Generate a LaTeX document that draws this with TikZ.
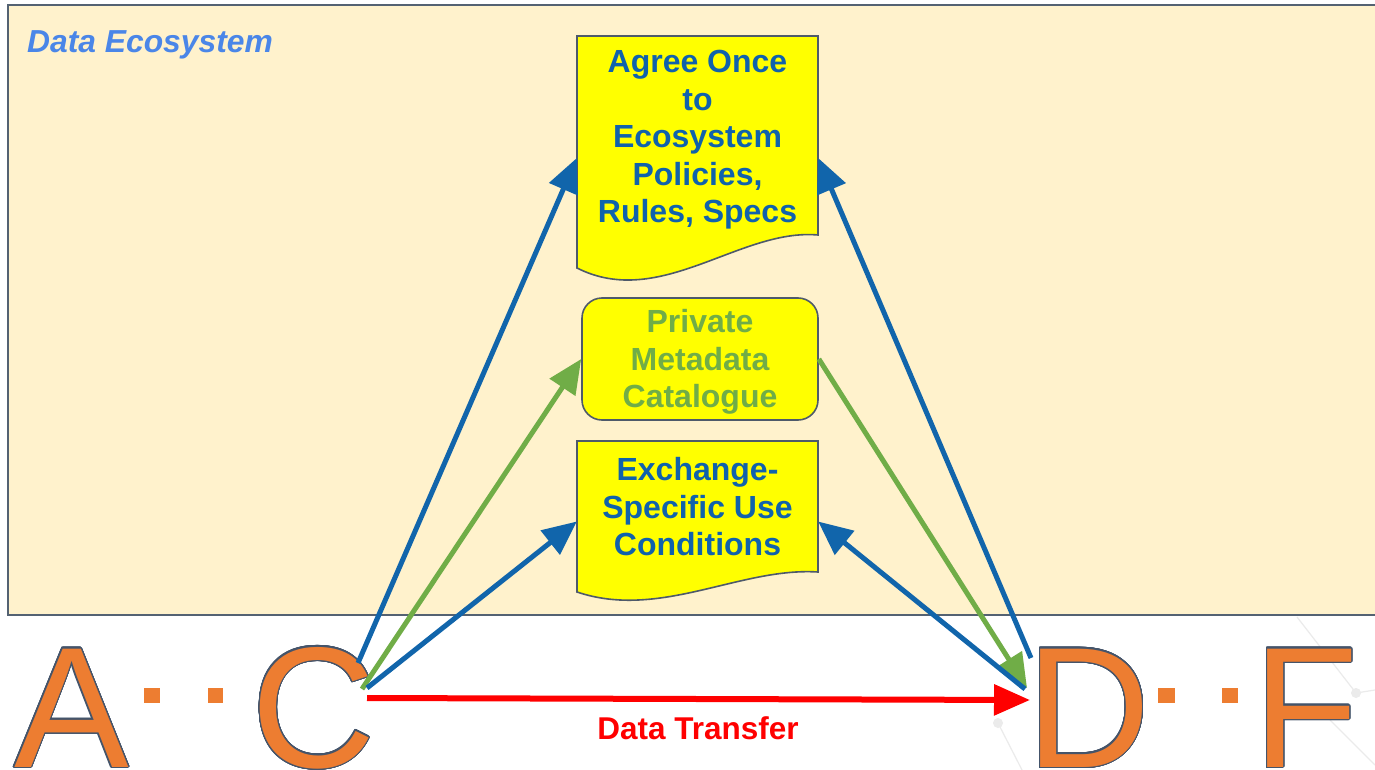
\documentclass[tikz,border=0pt]{standalone}
\usepackage{fontspec}
\setmainfont{Liberation Sans}
\usepackage[copies]{contour}
\usetikzlibrary{arrows.meta}
\contournumber{32}
\contourlength{1.2pt}
\definecolor{ecofill}{HTML}{FFF2CC}
\definecolor{ecoline}{RGB}{84,98,114}
\definecolor{docline}{RGB}{78,90,106}
\definecolor{docyellow}{HTML}{FFFF00}
\definecolor{txtblue}{RGB}{16,98,172}
\definecolor{arrblue}{RGB}{17,101,171}
\definecolor{grn}{RGB}{112,173,71}
\definecolor{ecotitle}{HTML}{4A86E8}
\definecolor{letterorange}{HTML}{ED7D31}
\definecolor{letterline}{HTML}{44546A}
\definecolor{netgray}{RGB}{235,235,235}
\tikzset{
  docshape/.style={draw=docline, line width=1.6, fill=docyellow},
  doctext/.style={text=txtblue, font=\fontsize{32}{37.5}\selectfont\bfseries, align=center, inner sep=0},
  bigletter/.style={anchor=base west, inner sep=0, text=letterorange, font=\fontsize{172}{172}\selectfont},
  sqdot/.style={fill=letterorange, draw=none},
  bluearrow/.style={draw=arrblue, line width=5, -{Triangle[length=34,width=30]}},
  greenarrow/.style={draw=grn, line width=5, -{Triangle[length=34,width=30]}},
  redarrow/.style={draw=red, line width=6, -{Triangle[length=36,width=30]}},
  anchorbox/.style={draw=none, fill=none, inner sep=0}
}
\begin{document}
\begin{tikzpicture}[x=1pt,y=-1pt]
\useasboundingbox (0,0) rectangle (1375,770);
\fill[white] (0,0) rectangle (1375,770);
% faint background network
\draw[netgray, line width=1.2] (998,723) -- (1022,770);
\draw[netgray, line width=1.2] (1297,617) -- (1356,693);
\draw[netgray, line width=1.2] (1356,693) -- (1375,690);
\draw[netgray, line width=1.2] (1330,720) -- (1375,765);
\fill[netgray] (998,723) circle (5);
\fill[netgray] (1356,693) circle (5);
% ecosystem area
\draw[ecoline, line width=2, fill=ecofill] (8,5) rectangle (1390,615);
\node[anchor=base west, inner sep=0, text=ecotitle, font=\fontsize{31.8}{31.8}\selectfont\bfseries\itshape] (ecotitle) at (27,53) {Data Ecosystem};
% top document
\node[anchorbox, minimum width=241, minimum height=244] (topdoc) at (697.5,158) {};
\draw[docshape] (577,36) -- (818,36) -- (818,235) .. controls (740,228) and (660,310) .. (577,268) -- cycle;
\node[doctext] (toptext) at (697.5,140) {Agree Once\\to\\Ecosystem\\Policies,\\Rules, Specs};
% middle catalogue
\node[draw=docline, line width=1.6, fill=docyellow, rounded corners=20, minimum width=236, minimum height=122, inner sep=0] (mid) at (700,359) {};
\node[doctext, text=grn] (midtext) at (700,362) {Private\\Metadata\\Catalogue};
% bottom document
\node[anchorbox, minimum width=241, minimum height=161] (lowdoc) at (697.5,521.5) {};
\draw[docshape] (577,441) -- (818,441) -- (818,572) .. controls (740,567) and (660,620) .. (577,592) -- cycle;
\node[doctext] (lowtext) at (697.5,507) {Exchange-\\Specific Use\\Conditions};
% letters
\node[bigletter] (A) at (14,767) {\contour{letterline}{A}};
\node[bigletter] (C) at (251,767) {\contour{letterline}{C}};
\node[bigletter] (D) at (1026,767) {\contour{letterline}{D}};
\node[bigletter] (F) at (1253,767) {\contour{letterline}{F}};
\fill[sqdot] (144,688) rectangle (160,703);
\fill[sqdot] (208,688) rectangle (223,703);
\fill[sqdot] (1158,688) rectangle (1175,703);
\fill[sqdot] (1222,688) rectangle (1238,703);
% connector ends at the letters
\coordinate (cTop) at (358,663);
\coordinate (cMid) at (362,689);
\coordinate (cLow) at (367,688);
\coordinate (cRed) at (367,698);
\coordinate (dTop) at (1031,658);
\coordinate (dMid) at (1027,688);
\coordinate (dLow) at (1025,689);
\coordinate (dRed) at (1030,700);
% arrows
\draw[bluearrow] (cTop) -- (topdoc.west);
\draw[greenarrow] (cMid) -- (mid.west);
\draw[bluearrow] (cLow) -- (lowdoc.west);
\draw[bluearrow] (dTop) -- (topdoc.east);
\draw[greenarrow] (mid.east) -- (dMid);
\draw[bluearrow] (dLow) -- (lowdoc.east);
\draw[redarrow] (cRed) -- (dRed);
\node[anchor=base, inner sep=0, text=red, font=\fontsize{31.5}{31.5}\selectfont\bfseries] (xfer) at (698,739) {Data Transfer};
\end{tikzpicture}
\end{document}
